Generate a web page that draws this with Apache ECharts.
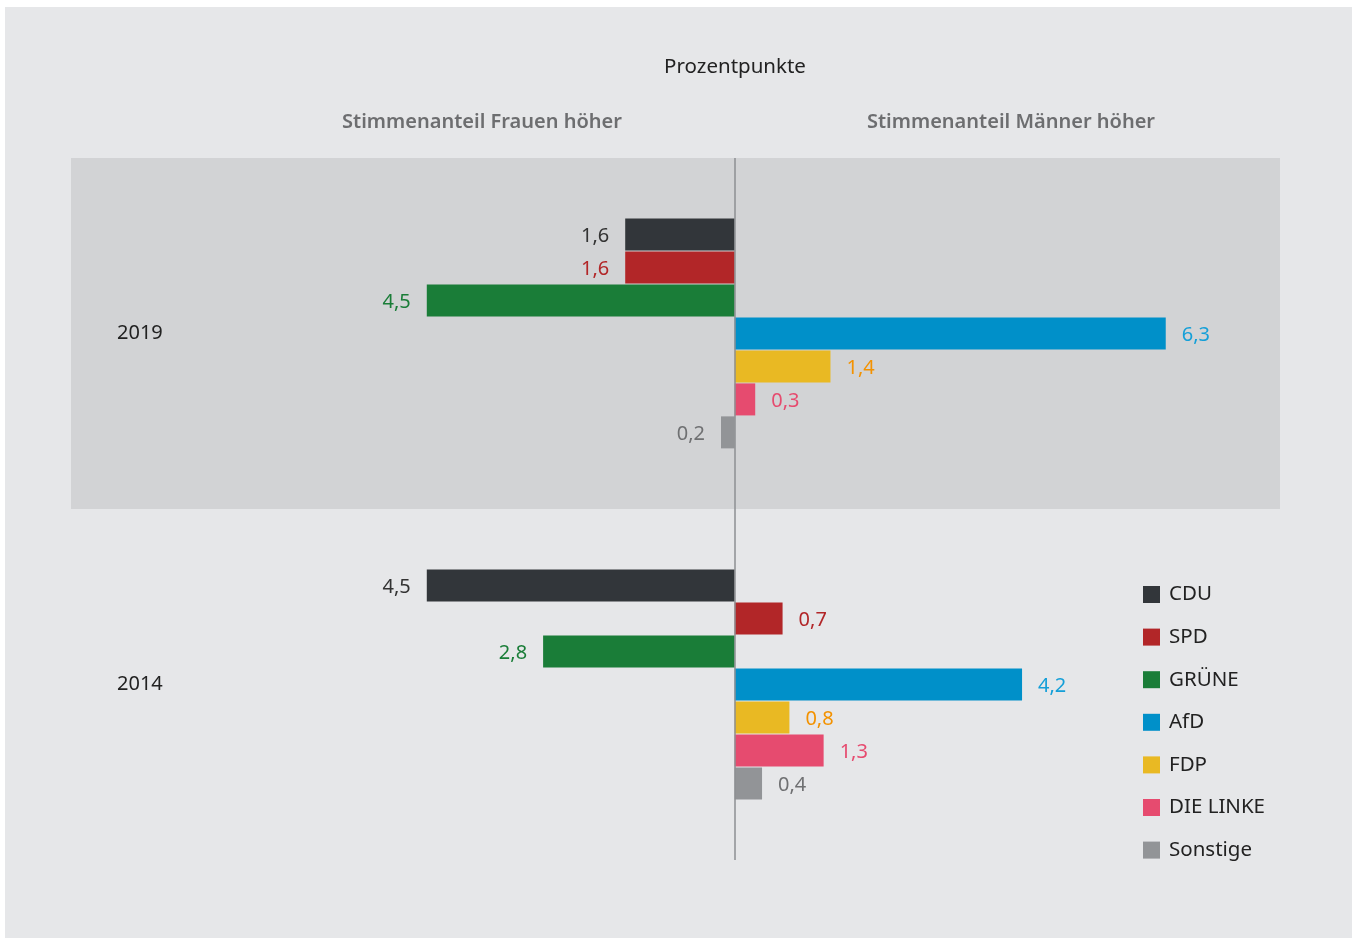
<!DOCTYPE html>
<html>
<head>
<meta charset="utf-8">
<script src="https://cdn.jsdelivr.net/npm/echarts@6/dist/echarts.min.js"></script>
<style>
  html, body { margin: 0; padding: 0; background: #ffffff; }
  #chart { position: absolute; left: 5px; top: 7px; width: 1347px; height: 931px; background: #e6e7e9; }
</style>
</head>
<body>
<div id="chart"></div>
<script>
// years (top to bottom)
var years = ['2019', '2014'];
var parties = ['CDU', 'SPD', 'GRÜNE', 'AfD', 'FDP', 'DIE LINKE', 'Sonstige'];
// Prozentpunkte: negative = Frauen höher, positive = Männer höher
var cdu = [-1.6, -4.5];
var spd = [-1.6, 0.7];
var gruene = [-4.5, -2.8];
var afd = [6.3, 4.2];
var fdp = [1.4, 0.8];
var linke = [0.3, 1.3];
var sonstige = [-0.2, 0.4];

var barColors = ['#32363a', '#b22628', '#1a7d38', '#0090c9', '#e9b923', '#e64b6f', '#929497'];
var labelColors = ['#333333', '#b22628', '#1a7d38', '#149fd8', '#f39200', '#e64b6f', '#6f7072'];
var values = [cdu, spd, gruene, afd, fdp, linke, sonstige];

var fontFamily = '"Noto Sans", "Open Sans", sans-serif';

var series = values.map(function (vals, i) {
    var s = {
        name: parties[i],
        type: 'bar',
        barWidth: 32,
        barGap: '3%',
        itemStyle: { color: barColors[i] },
        label: {
            show: true,
            distance: 16,
            offset: [0, 2],
            color: labelColors[i],
            fontSize: 20,
            fontFamily: fontFamily,
            formatter: function (p) {
                return Math.abs(p.value).toFixed(1).replace('.', ',');
            }
        },
        data: vals.map(function (v) {
            return { value: v, label: { position: v < 0 ? 'left' : 'right' } };
        })
    };
    if (i === 0) {
        s.markLine = {
            silent: true,
            symbol: 'none',
            label: { show: false },
            lineStyle: { color: '#8d8f92', width: 1.5, type: 'solid' },
            data: [{ xAxis: 0 }]
        };
    }
    return s;
});

var myChart = echarts.init(document.getElementById('chart'));
var option = {
    backgroundColor: '#e6e7e9',
    animation: false,
    textStyle: { fontFamily: fontFamily },
    grid: { left: 66, top: 151, width: 1209, height: 702 },
    xAxis: {
        type: 'value',
        min: -9.70,
        max: 7.97,
        show: false
    },
    yAxis: {
        type: 'category',
        data: years,
        inverse: true,
        axisLine: { show: false, onZero: false },
        axisTick: { show: false },
        axisLabel: {
            inside: true,
            margin: 46,
            fontSize: 20,
            lineHeight: 24,
            padding: [4, 0, 0, 0],
            color: '#222222',
            fontFamily: fontFamily
        },
        splitLine: { show: false },
        splitArea: {
            show: true,
            areaStyle: { color: ['#d2d3d5', 'rgba(0,0,0,0)'] }
        }
    },
    legend: {
        orient: 'vertical',
        left: 1133,
        top: 572,
        icon: 'rect',
        itemWidth: 17,
        itemHeight: 17,
        itemGap: 21.6,
        data: parties,
        textStyle: {
            fontSize: 20.5,
            lineHeight: 20,
            color: '#222222',
            fontFamily: fontFamily,
            padding: [0, 0, 0, 4]
        }
    },
    graphic: [
        { type: 'text', x: 730, y: 60, style: { text: 'Prozentpunkte', fill: '#222222', font: '20.5px ' + fontFamily, textAlign: 'center', textVerticalAlign: 'middle' } },
        { type: 'text', x: 477, y: 115, style: { text: 'Stimmenanteil Frauen höher', fill: '#6d6e70', font: '600 20px ' + fontFamily, textAlign: 'center', textVerticalAlign: 'middle' } },
        { type: 'text', x: 1006, y: 115, style: { text: 'Stimmenanteil Männer höher', fill: '#6d6e70', font: '600 20px ' + fontFamily, textAlign: 'center', textVerticalAlign: 'middle' } }
    ],
    series: series
};
myChart.setOption(option);
</script>
</body>
</html>
